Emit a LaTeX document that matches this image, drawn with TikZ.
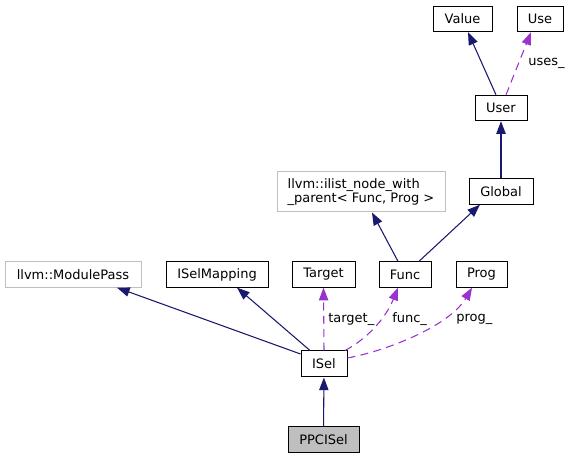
\documentclass[tikz,border=0pt]{standalone}
\usepackage{fontspec}
\setmainfont{DejaVu Sans}
\usetikzlibrary{arrows.meta,calc}
\definecolor{edgeblue}{HTML}{191970}
\definecolor{edgepurple}{HTML}{9A32CD}
\definecolor{extgray}{HTML}{BFBFBF}

\begin{document}
\begin{tikzpicture}[x=0.75pt,y=-0.75pt,
    font=\fontsize{9.75}{11}\selectfont,
    box/.style={draw=black,line width=0.75pt,inner sep=0pt,minimum height=19pt},
    extbox/.style={box,draw=extgray},
    lbl/.style={anchor=west,inner sep=0pt},
    inherit/.style={draw=edgeblue,line width=0.8pt,-{Triangle[length=9.5pt,width=7pt]}},
    member/.style={draw=edgepurple,line width=0.8pt,dash pattern=on 6pt off 4pt,
      -{Triangle[length=9.5pt,width=7pt]}}]
  \useasboundingbox (0,0) rectangle (571,459);

  % top row
  \node[box,minimum width=44.25pt] (Value) at (462.5,19) {Value};
  \node[box,minimum width=34.5pt] (Use) at (540,19) {Use};
  \node[box,minimum width=39pt] (User) at (501,108) {User};
  \node[box,minimum width=48pt] (Global) at (501,191.5) {Global};
  \node[extbox,minimum width=126pt,minimum height=30pt,align=left] (ilist) at (361,192)
    {llvm::ilist\_node\_with\\\_parent< Func, Prog >};

  % middle row
  \node[extbox,minimum width=102pt] (ModulePass) at (73,274.5) {llvm::ModulePass};
  \node[box,minimum width=76.5pt] (ISelMapping) at (217,274.5) {ISelMapping};
  \node[box,minimum width=47.25pt] (Target) at (323.5,274.5) {Target};
  \node[box,minimum width=39pt] (Func) at (405,274.5) {Func};
  \node[box,minimum width=38.25pt] (Prog) at (481.5,274.5) {Prog};

  % bottom
  \node[box,minimum width=34.5pt,minimum height=19.5pt] (ISel) at (324,364) {ISel};
  \node[box,fill=extgray,minimum width=53.25pt] (PPCISel) at (323.5,439.5) {PPCISel};

  \draw[inherit] (Global) -- (User);
  \draw[inherit] ($(User.north)+(-5,0)$) -- ($(Value.south)+(5.5,0)$);
  \draw[member] ($(User.north)+(5,0)$) -- ($(Use.south)+(-9,0)$);
  \node[lbl] (usesl) at (528,63) {uses\_};

  \draw[inherit] ($(Func.north)+(-7,0)$) -- ($(ilist.south)+(11,0)$);
  \draw[inherit] ($(Func.north)+(14,0)$) -- ($(Global.south)+(-21,0)$);

  \draw[inherit] ($(ISel.west)+(0,-10)$) -- ($(ModulePass.south)+(44,0)$);
  \draw[inherit] ($(ISel.north)+(-14,0)$) -- ($(ISelMapping.south)+(20,0)$);
  \draw[member] (ISel.north) -- (Target.south);
  \node[lbl] (targetl) at (328,319) {target\_};
  \draw[member] ($(ISel.north)+(21,0)$) .. controls (365,340) and (385,320) .. ($(Func.south)+(-7,0)$);
  \node[lbl] (funcl) at (392,319) {func\_};
  \draw[member] ($(ISel.east)+(0,-6)$) .. controls (390,350) and (450,325) .. ($(Prog.south)+(-9.5,0)$);
  \node[lbl] (progl) at (456,319) {prog\_};
  %\draw[inherit] (PPCISel.north) -- (ISel.south);
  \draw[inherit] (PPCISel) -- (ISel);
\end{tikzpicture}
\end{document}
